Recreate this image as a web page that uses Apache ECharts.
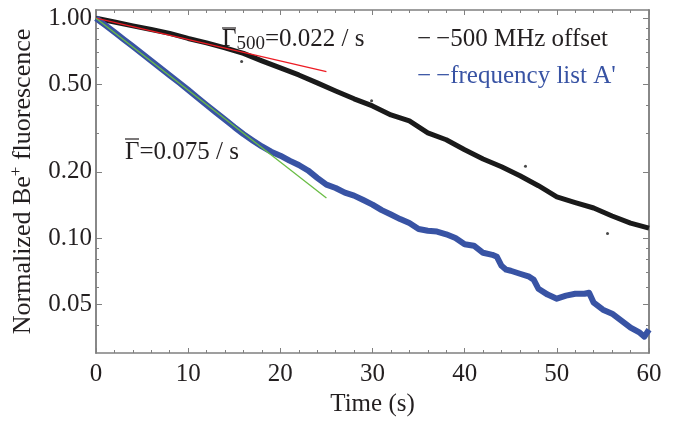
<!DOCTYPE html>
<html>
<head>
<meta charset="utf-8">
<script src="https://cdn.jsdelivr.net/npm/echarts@6/dist/echarts.min.js"></script>
<style>
  html, body { margin: 0; padding: 0; background: #fff; }
  #chart { width: 674px; height: 422px; }
</style>
</head>
<body>
<div id="chart"></div>
<script>
// values: time (s) vs normalized Be+ fluorescence
const offsetTimes = [0, 2, 4, 6, 8, 10, 12, 14, 16, 18, 20, 22, 24, 26, 28, 30,
  32, 34, 36, 38, 40, 42, 44, 46, 48, 50, 52, 54, 56, 58, 60];
const offsetValues = [1.000, 0.962, 0.923, 0.889, 0.853, 0.809, 0.772, 0.733, 0.692, 0.640,
  0.594, 0.552, 0.508, 0.467, 0.430, 0.399, 0.363, 0.341, 0.301, 0.280, 0.252, 0.229,
  0.211, 0.192, 0.173, 0.154, 0.145, 0.137, 0.126, 0.117, 0.111];
const strayTimes = [15.8, 29.9, 46.6, 55.5];
const strayValues = [0.635, 0.421, 0.212, 0.105];

const listTimes = [0, 1, 2, 3, 4, 5, 6, 7, 8, 9, 10, 11, 12, 13, 14, 15, 16, 17, 18, 19,
  20, 21, 22, 23, 24, 25, 26, 27, 28, 29, 30, 31, 32, 33, 34, 35, 36, 37, 38, 39, 40,
  41, 42, 43, 43.5, 44, 44.5, 45, 46, 47, 47.5, 48, 49, 50, 51, 52, 53, 53.5, 54, 55,
  56, 57, 58, 59, 59.5, 60];
const listValues = [1.000, 0.931, 0.864, 0.802, 0.744, 0.690, 0.640, 0.593, 0.550, 0.510,
  0.472, 0.436, 0.403, 0.373, 0.346, 0.320, 0.297, 0.278, 0.261, 0.247,
  0.237, 0.225, 0.215, 0.203, 0.188, 0.175, 0.169, 0.161, 0.156, 0.149,
  0.142, 0.134, 0.128, 0.122, 0.117, 0.110, 0.108, 0.107, 0.104, 0.100,
  0.0937, 0.0923, 0.0857, 0.0839, 0.0822, 0.0748, 0.0718, 0.0710, 0.0688, 0.0667,
  0.0646, 0.0588, 0.0553, 0.0530, 0.0547, 0.0558, 0.0558, 0.0564, 0.0508, 0.0472,
  0.0453, 0.0421, 0.0391, 0.0371, 0.0356, 0.0383];

// fitted decays, drawn 0..25 s
const fitTimes = [0, 25];
const fit500 = [1.0, 0.572];
const fitList = [1.0, 0.152];

const xTicks = [0, 10, 20, 30, 40, 50, 60];
const yMajor = [0.05, 0.1, 0.2, 0.5, 1.0];
const yMinor = [0.04, 0.06, 0.07, 0.08, 0.09, 0.3, 0.4, 0.6, 0.7, 0.8, 0.9];

const serif = 'Liberation Serif';
const ink = '#231f20';
const frame = '#808080';
const blue = '#3853a4';

function pairs(xs, ys) {
  return xs.map((x, i) => [x, ys[i]]);
}

const xBase = {
  type: 'value', min: xTicks[0], max: xTicks[xTicks.length - 1], interval: 10,
  axisLine: { lineStyle: { color: frame, width: 1.5 } },
  axisTick: { inside: true, length: 5, lineStyle: { color: frame } },
  minorTick: { show: true, splitNumber: 5, length: 3, lineStyle: { color: frame } },
  splitLine: { show: false }
};

const yBase = {
  type: 'log', logBase: 10, min: 0.03, max: 1.09,
  axisLine: { show: true, lineStyle: { color: frame, width: 1.5 } },
  splitLine: { show: false },
  axisLabel: { show: false }
};

// short bar drawn over the Gamma
function overbar(x, y) {
  return { type: 'line', shape: { x1: x, y1: y, x2: x + 14, y2: y }, style: { stroke: ink, lineWidth: 1.2 } };
}

const chart = echarts.init(document.getElementById('chart'));

chart.setOption({
  animation: false,
  grid: { left: 96, right: 25, top: 10, bottom: 69 },
  xAxis: [
    Object.assign({}, xBase, {
      position: 'bottom',
      axisLabel: { fontFamily: serif, fontSize: 25, color: ink, margin: 9 },
      name: 'Time (s)', nameLocation: 'middle', nameGap: 38,
      nameTextStyle: { fontFamily: serif, fontSize: 25, color: ink }
    }),
    Object.assign({}, xBase, { position: 'top', axisLabel: { show: false } })
  ],
  yAxis: [
    Object.assign({}, yBase, {
      position: 'left',
      axisTick: { inside: true, length: 6, customValues: yMajor, lineStyle: { color: frame } },
      axisLabel: {
        show: true, customValues: yMajor, margin: 4,
        formatter: v => Number(v).toFixed(2),
        fontFamily: serif, fontSize: 25, color: ink
      },
      name: '{n|Normalized Be}{s|+}{n| fluorescence}',
      nameLocation: 'middle', nameGap: 58,
      nameTextStyle: {
        fontFamily: serif, fontSize: 26, color: ink,
        rich: {
          n: { fontFamily: serif, fontSize: 26, color: ink, lineHeight: 30 },
          s: { fontFamily: serif, fontSize: 17, color: ink, lineHeight: 17, verticalAlign: 'top' }
        }
      }
    }),
    Object.assign({}, yBase, {
      position: 'left',
      axisTick: { inside: true, length: 3, customValues: yMinor, lineStyle: { color: frame } }
    }),
    Object.assign({}, yBase, {
      position: 'right',
      axisTick: { inside: true, length: 6, customValues: yMajor, lineStyle: { color: frame } }
    }),
    Object.assign({}, yBase, {
      position: 'right',
      axisTick: { inside: true, length: 3, customValues: yMinor, lineStyle: { color: frame } }
    })
  ],
  series: [
    {
      name: '500 MHz offset', type: 'line', data: pairs(offsetTimes, offsetValues),
      showSymbol: false, lineStyle: { color: '#1a1a1a', width: 5, join: 'round' }
    },
    {
      name: 'stray', type: 'scatter', data: pairs(strayTimes, strayValues),
      symbolSize: 3, itemStyle: { color: '#1a1a1a' }
    },
    {
      name: "frequency list A'", type: 'line', data: pairs(listTimes, listValues),
      showSymbol: false, lineStyle: { color: blue, width: 6, join: 'round' }
    },
    {
      name: 'fit 500', type: 'line', data: pairs(fitTimes, fit500),
      showSymbol: false, lineStyle: { color: '#ed1c24', width: 1.3 }
    },
    {
      name: 'fit list', type: 'line', data: pairs(fitTimes, fitList),
      showSymbol: false, lineStyle: { color: '#6abd45', width: 1.3 }
    }
  ],
  graphic: [
    {
      type: 'text', x: 222, y: 39,
      style: {
        text: '{g|\u0393}{b|500}{g|=0.022 / s}',
        verticalAlign: 'middle',
        rich: {
          g: { fontFamily: serif, fontSize: 25, fill: ink, lineHeight: 30 },
          b: { fontFamily: serif, fontSize: 19, fill: ink, lineHeight: 19, verticalAlign: 'bottom' }
        }
      }
    },
    overbar(222, 28),
    {
      type: 'text', x: 125, y: 152,
      style: { text: '\u0393=0.075 / s', fontFamily: serif, fontSize: 25, fill: ink, verticalAlign: 'middle' }
    },
    overbar(125, 139),
    {
      type: 'text', x: 417, y: 39,
      style: { text: '\u2212\u2009\u2212500 MHz offset', fontFamily: serif, fontSize: 25, fill: ink, verticalAlign: 'middle' }
    },
    {
      type: 'text', x: 417, y: 76,
      style: { text: "\u2212\u2009\u2212frequency list A'", fontFamily: serif, fontSize: 25, fill: blue, verticalAlign: 'middle' }
    }
  ]
});
</script>
</body>
</html>
